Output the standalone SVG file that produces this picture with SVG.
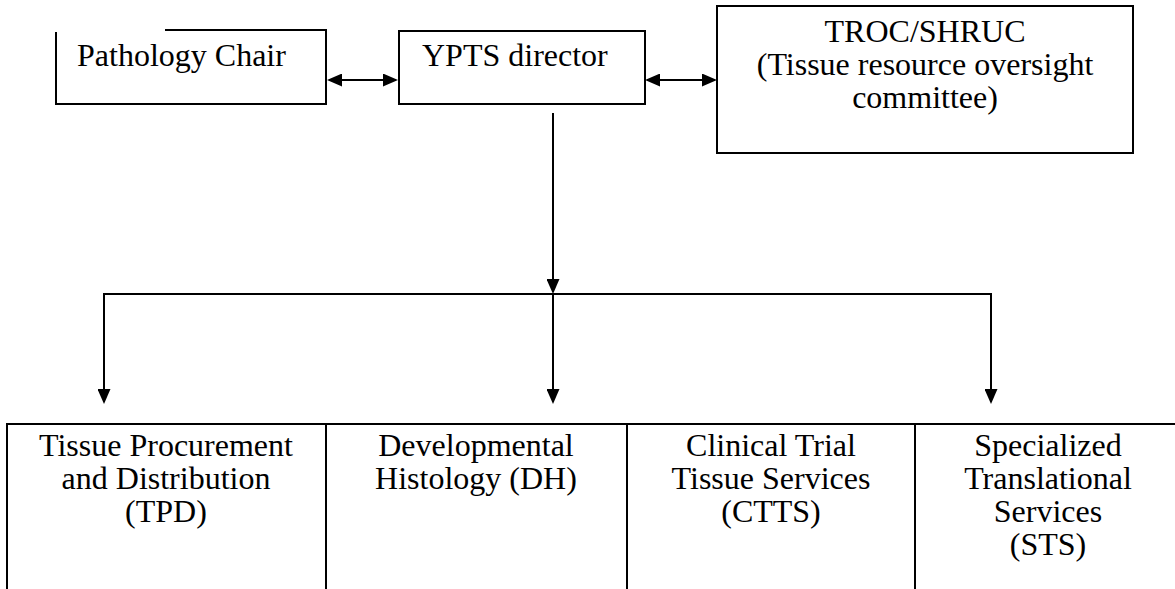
<svg xmlns="http://www.w3.org/2000/svg" width="1175" height="589" viewBox="0 0 1175 589">
  <defs>
    <marker id="arrow" markerUnits="userSpaceOnUse" markerWidth="15" markerHeight="13" refX="13" refY="6.5" orient="auto-start-reverse">
      <path d="M0,0 L15,6.5 L0,13 Z" fill="#000"/>
    </marker>
    <style>
      .box { fill: none; stroke: #000; stroke-width: 2; }
      .con { fill: none; stroke: #000; stroke-width: 2; }
      .lbl { font-family: "Liberation Serif", "Times New Roman", serif; font-size: 32px; fill: #000; }
      .mid { text-anchor: middle; }
    </style>
  </defs>
  <rect width="1175" height="589" fill="#fff"/>

  <g id="pathology-chair">
    <path class="box" d="M165,30 H326 V104 H56 V32"/>
    <text class="lbl" x="77" y="66">Pathology Chair</text>
  </g>

  <g id="ypts-director">
    <rect class="box" x="399" y="31" width="246" height="73"/>
    <text class="lbl" x="422" y="66">YPTS director</text>
  </g>

  <g id="troc-shruc">
    <rect class="box" x="717" y="6" width="416" height="147"/>
    <text class="lbl mid" x="925" y="42">TROC/SHRUC</text>
    <text class="lbl mid" x="925" y="75">(Tissue resource oversight</text>
    <text class="lbl mid" x="925" y="108">committee)</text>
  </g>

  <g id="tpd">
    <rect class="box" x="7" y="424" width="319" height="200"/>
    <text class="lbl mid" x="166" y="456">Tissue Procurement</text>
    <text class="lbl mid" x="166" y="489">and Distribution</text>
    <text class="lbl mid" x="166" y="522">(TPD)</text>
  </g>

  <g id="dh">
    <rect class="box" x="326" y="424" width="301" height="200"/>
    <text class="lbl mid" x="476" y="456">Developmental</text>
    <text class="lbl mid" x="476" y="489">Histology (DH)</text>
  </g>

  <g id="ctts">
    <rect class="box" x="627" y="424" width="288" height="200"/>
    <text class="lbl mid" x="771" y="456">Clinical Trial</text>
    <text class="lbl mid" x="771" y="489">Tissue Services</text>
    <text class="lbl mid" x="771" y="522">(CTTS)</text>
  </g>

  <g id="sts">
    <rect class="box" x="915" y="424" width="267" height="200"/>
    <text class="lbl mid" x="1048" y="456">Specialized</text>
    <text class="lbl mid" x="1048" y="489">Translational</text>
    <text class="lbl mid" x="1048" y="522">Services</text>
    <text class="lbl mid" x="1048" y="555">(STS)</text>
  </g>

  <g id="connectors">
    <line class="con" x1="329" y1="80" x2="396" y2="80" marker-start="url(#arrow)" marker-end="url(#arrow)"/>
    <line class="con" x1="647" y1="80" x2="715" y2="80" marker-start="url(#arrow)" marker-end="url(#arrow)"/>
    <line class="con" x1="553" y1="113" x2="553" y2="292" marker-end="url(#arrow)"/>
    <line class="con" x1="103" y1="294" x2="992" y2="294"/>
    <line class="con" x1="104" y1="294" x2="104" y2="402" marker-end="url(#arrow)"/>
    <line class="con" x1="553" y1="294" x2="553" y2="402" marker-end="url(#arrow)"/>
    <line class="con" x1="991" y1="294" x2="991" y2="402" marker-end="url(#arrow)"/>
  </g>
</svg>
